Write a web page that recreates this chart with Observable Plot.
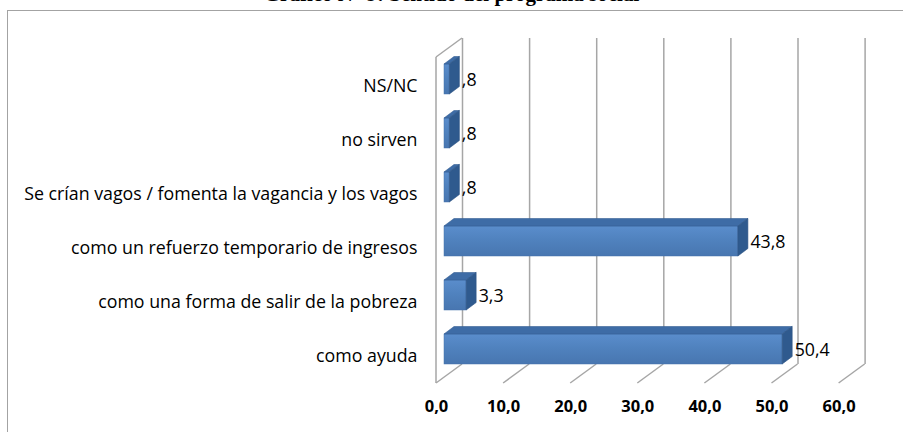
<!DOCTYPE html>
<html>
<head>
<meta charset="utf-8">
<script src="https://cdn.jsdelivr.net/npm/d3@7"></script>
<script src="https://cdn.jsdelivr.net/npm/@observablehq/plot@0.6"></script>
<style>
  html, body { margin: 0; padding: 0; background: #fff; }
  body { width: 903px; height: 432px; overflow: hidden; position: relative; }
  #title { position: absolute; left: 0; width: 903px; top: -16px; text-align: center;
           font-family: "Liberation Serif", "DejaVu Serif", serif; font-weight: bold; font-size: 21px; line-height: 21px; }
  #frame { position: absolute; left: 7px; top: 10px; width: 1000px; height: 1000px;
           border-left: 1.5px solid #a3a3a3; border-top: 1.5px solid #a3a3a3; }
  #chart { position: absolute; left: 0; top: 10px; }
</style>
</head>
<body>
<div id="title">Gráfico N° 9: Sentido del programa social</div>
<div id="frame"></div>
<div id="chart"></div>
<script>
const categories = [
  "NS/NC",
  "no sirven",
  "Se crían vagos / fomenta la vagancia y los vagos",
  "como un refuerzo temporario de ingresos",
  "como una forma de salir de la pobreza",
  "como ayuda"
];
const values = [0.8, 0.8, 0.8, 43.8, 3.3, 50.4];
const valueLabels = [",8", ",8", ",8", "43,8", "3,3", "50,4"];
const xTicks = [0, 10, 20, 30, 40, 50, 60];
const xTickLabels = ["0,0", "10,0", "20,0", "30,0", "40,0", "50,0", "60,0"];

const data = categories.map((c, i) => ({cat: c, value: values[i], label: valueLabels[i]}));

// 3D depth offsets (pixels) relative to bar front plane
const BACK = {dx: 18, dy: -13};
const FLOOR = {dx: -8, dy: 6};
const DEPTH = {dx: 10, dy: -7.5};
const gridColor = "#a6a6a6";

function defsMark() {
  const defs = d3.create("svg:defs");
  const g = defs.append("linearGradient").attr("id", "barFront").attr("x1", 0).attr("y1", 0).attr("x2", 0).attr("y2", 1);
  g.append("stop").attr("offset", "0%").attr("stop-color", "#5a8dcc");
  g.append("stop").attr("offset", "50%").attr("stop-color", "#4f81bd");
  g.append("stop").attr("offset", "100%").attr("stop-color", "#4876b0");
  return defs.node();
}

function wallMark(index, scales, values, dims) {
  const sx = scales.x;
  const top = dims.marginTop, bottom = dims.height - dims.marginBottom;
  const g = d3.create("svg:g").attr("stroke", gridColor).attr("stroke-width", 1.5).attr("fill", "none");
  const x0 = sx(0);
  g.append("line").attr("x1", x0 + FLOOR.dx).attr("y1", top + FLOOR.dy).attr("x2", x0 + FLOOR.dx).attr("y2", bottom + FLOOR.dy);
  g.append("line").attr("x1", x0 + FLOOR.dx).attr("y1", top + FLOOR.dy).attr("x2", x0 + BACK.dx).attr("y2", top + BACK.dy);
  for (const t of xTicks) {
    g.append("line")
      .attr("x1", sx(t) + FLOOR.dx).attr("y1", bottom + FLOOR.dy)
      .attr("x2", sx(t) + BACK.dx).attr("y2", bottom + BACK.dy);
  }
  return g.node();
}

function barSidesMark(index, scales) {
  const sx = scales.x, sy = scales.y;
  const bw = sy.bandwidth ? sy.bandwidth() : 30;
  const g = d3.create("svg:g");
  for (const d of data) {
    const x0 = sx(0), x1 = sx(d.value), y0 = sy(d.cat), y1 = y0 + bw;
    g.append("polygon")
      .attr("points", [[x0, y0], [x1, y0], [x1 + DEPTH.dx, y0 + DEPTH.dy], [x0 + DEPTH.dx, y0 + DEPTH.dy]].map(p => p.join(",")).join(" "))
      .attr("fill", "#3e6ca6").attr("stroke", "#365f93").attr("stroke-width", 0.6);
    g.append("polygon")
      .attr("points", [[x1, y0], [x1 + DEPTH.dx, y0 + DEPTH.dy], [x1 + DEPTH.dx, y1 + DEPTH.dy], [x1, y1]].map(p => p.join(",")).join(" "))
      .attr("fill", "#2f5a8e").attr("stroke", "#2b5283").attr("stroke-width", 0.6);
  }
  return g.node();
}

const plot = Plot.plot({
  width: 903,
  height: 422,
  marginLeft: 444,
  marginRight: 56.4,
  marginTop: 41,
  marginBottom: 55,
  style: {fontFamily: "'Open Sans', Lato, sans-serif", fontSize: "17px", color: "#000", background: "transparent", overflow: "visible"},
  x: {domain: [0, 60], label: null},
  y: {domain: categories, paddingInner: 0.45, paddingOuter: 0.225, label: null},
  marks: [
    defsMark,
    Plot.ruleX(xTicks, {dx: BACK.dx, dy: BACK.dy, stroke: gridColor, strokeWidth: 1.5}),
    wallMark,
    Plot.barX(data, {x: "value", y: "cat", fill: "url(#barFront)", stroke: "#4573ad", strokeWidth: 0.5}),
    barSidesMark,
    Plot.text(data, {x: "value", y: "cat", text: "label", textAnchor: "start", dx: DEPTH.dx + 2, dy: 1, fill: "#000", fontSize: 17.8}),
    Plot.axisY({tickSize: 0, tickPadding: 27, dy: 7, fill: "#000", fontSize: 17.8, label: null}),
    Plot.axisX({ticks: xTicks, tickFormat: (d) => xTickLabels[xTicks.indexOf(d)], tickSize: 0, tickPadding: 23, dx: FLOOR.dx, fill: "#000", fontSize: 16.5, fontWeight: "bold", label: null})
  ]
});
document.getElementById("chart").appendChild(plot);
</script>
</body>
</html>
